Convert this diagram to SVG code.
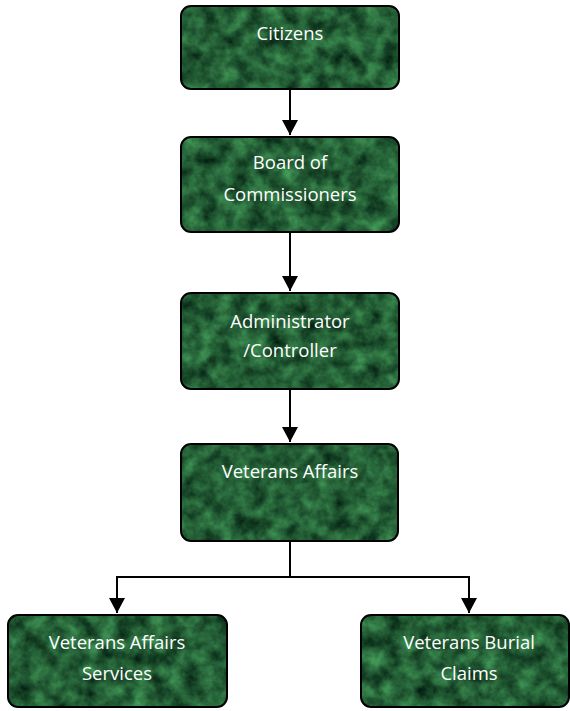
<svg xmlns="http://www.w3.org/2000/svg" width="570" height="711" viewBox="0 0 570 711">
  <defs>
    <filter id="marble" x="0" y="0" width="1" height="1" color-interpolation-filters="sRGB">
      <feTurbulence type="fractalNoise" baseFrequency="0.06" numOctaves="5" seed="7" result="n"/>
      <feColorMatrix in="n" type="matrix" values="0.32 0 0 0 -0.02  0.62 0 0 0 0.06  0.36 0 0 0 0.03  0 0 0 0 1" result="c"/>
      <feComposite in="c" in2="SourceGraphic" operator="in"/>
    </filter>
    <marker id="arrow" markerUnits="userSpaceOnUse" markerWidth="16" markerHeight="16" refX="15" refY="8" orient="auto">
      <path d="M0,0 L15,8 L0,16 z" fill="#000"/>
    </marker>
  </defs>
  <style>
    .fill { fill: #1f5a2e; filter: url(#marble); }
    .edge { fill: none; stroke: #000; stroke-width: 2; }
    .lbl { font-family: "Open Sans", "Liberation Sans", sans-serif; font-size: 18.5px; fill: #fff; text-anchor: middle; }
    .conn { fill: none; stroke: #000; stroke-width: 2; }
  </style>

  <g id="connectors">
    <path class="conn" d="M290,89 V135" marker-end="url(#arrow)"/>
    <path class="conn" d="M290,232 V291" marker-end="url(#arrow)"/>
    <path class="conn" d="M290,389 V442" marker-end="url(#arrow)"/>
    <path class="conn" d="M290,541 V577"/>
    <path class="conn" d="M116,577 H470"/>
    <path class="conn" d="M117,576 V613" marker-end="url(#arrow)"/>
    <path class="conn" d="M469,576 V613" marker-end="url(#arrow)"/>
  </g>

  <g id="citizens">
    <rect class="fill" x="181" y="6" width="218" height="83" rx="10"/>
    <rect class="edge" x="181" y="6" width="218" height="83" rx="10"/>
    <text class="lbl" x="290" y="40">Citizens</text>
  </g>

  <g id="board">
    <rect class="fill" x="181" y="137" width="218" height="95" rx="10"/>
    <rect class="edge" x="181" y="137" width="218" height="95" rx="10"/>
    <text class="lbl" x="290" y="169">Board of</text>
    <text class="lbl" x="290" y="201">Commissioners</text>
  </g>

  <g id="administrator">
    <rect class="fill" x="181" y="293" width="218" height="96" rx="10"/>
    <rect class="edge" x="181" y="293" width="218" height="96" rx="10"/>
    <text class="lbl" x="290" y="328">Administrator</text>
    <text class="lbl" x="290" y="357">/Controller</text>
  </g>

  <g id="veterans-affairs">
    <rect class="fill" x="181" y="444" width="217" height="97" rx="10"/>
    <rect class="edge" x="181" y="444" width="217" height="97" rx="10"/>
    <text class="lbl" x="290" y="478">Veterans Affairs</text>
  </g>

  <g id="va-services">
    <rect class="fill" x="8" y="615" width="219" height="92" rx="10"/>
    <rect class="edge" x="8" y="615" width="219" height="92" rx="10"/>
    <text class="lbl" x="117" y="649">Veterans Affairs</text>
    <text class="lbl" x="117" y="680">Services</text>
  </g>

  <g id="burial-claims">
    <rect class="fill" x="361" y="615" width="208" height="92" rx="10"/>
    <rect class="edge" x="361" y="615" width="208" height="92" rx="10"/>
    <text class="lbl" x="469" y="649">Veterans Burial</text>
    <text class="lbl" x="469" y="680">Claims</text>
  </g>
</svg>
